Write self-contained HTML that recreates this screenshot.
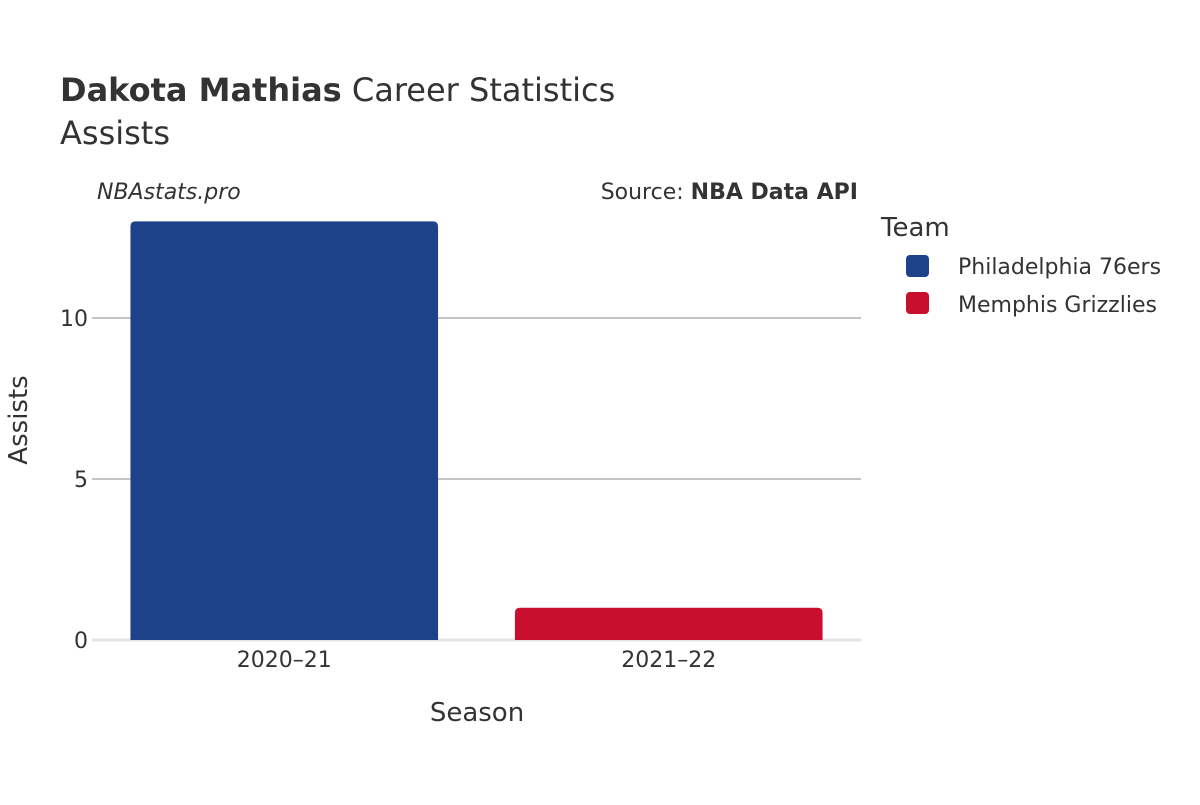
<!DOCTYPE html>
<html><head><meta charset="utf-8"><style>
body{margin:0;background:#fff;}
svg text{font-family:"DejaVu Sans","Liberation Sans",sans-serif;fill:#333;}
</style></head><body>
<svg width="1200" height="800" xmlns="http://www.w3.org/2000/svg">
<g>
<text x="60" y="101" font-size="32"><tspan font-weight="bold">Dakota Mathias</tspan> Career Statistics</text>
<text x="60" y="144" font-size="32">Assists</text>
</g>
<text x="97" y="199" font-size="22" font-style="italic">NBAstats.pro</text>
<text x="858" y="199" font-size="22" text-anchor="end">Source: <tspan font-weight="bold">NBA Data API</tspan></text>
<g id="grid"></g>
<g id="bars"></g>
<g id="xt"></g>
<text transform="translate(27,420) rotate(-90)" font-size="26" text-anchor="middle">Assists</text>
<text x="477" y="721" font-size="26" text-anchor="middle">Season</text>
<g>
<text x="881" y="236" font-size="26">Team</text>
<g>
<rect x="906" y="255" width="23" height="22" rx="4" fill="#1d4289"/>
<text x="958" y="274" font-size="22">Philadelphia 76ers</text></g>
<g>
<rect x="906" y="292" width="23" height="22" rx="4" fill="#c8102e"/>
<text x="958" y="312" font-size="22">Memphis Grizzlies</text></g>
</g>
</svg>
<script>
const seasons=["2020–21","2021–22"];
const assists=[13,1];
const teams=["Philadelphia 76ers","Memphis Grizzlies"];
const colors=["#1d4289","#c8102e"];
const yTicks=[0,5,10];
const NS="http://www.w3.org/2000/svg";
const x0=92,x1=861,y0=640,ppu=32.2;
const band=(x1-x0)/seasons.length;
function y(v){return y0-v*ppu;}
function mk(t,a){const e=document.createElementNS(NS,t);for(const k in a)e.setAttribute(k,a[k]);return e;}
const g=document.getElementById('grid');
yTicks.forEach(v=>{
  const l=mk('line',{x1:v===0?x0:x0,x2:x1,y1:y(v),y2:y(v),stroke:v===0?'#e5e5e5':'#888','stroke-width':v===0?3:1});
  
  
  g.appendChild(l);
  const t=mk('text',{x:88,y:y(v)+8,'font-size':22,'text-anchor':'end'});
  t.textContent=v;
  
  
  g.appendChild(t);
});
const b=document.getElementById('bars');
seasons.forEach((s,i)=>{
  const bw=band*0.8,bx=x0+band*i+band*0.1,top=y(assists[i]),h=y0-top,r=5;
  const p=mk('path',{d:`M${bx},${y0}V${top+r}Q${bx},${top} ${bx+r},${top}H${bx+bw-r}Q${bx+bw},${top} ${bx+bw},${top+r}V${y0}Z`,fill:colors[i]});
  
  
  b.appendChild(p);
  const t=mk('text',{x:x0+band*(i+0.5),y:667,'font-size':22,'text-anchor':'middle'});
  t.textContent=s;
  
  
  document.getElementById('xt').appendChild(t);
});
</script>
</body></html>
